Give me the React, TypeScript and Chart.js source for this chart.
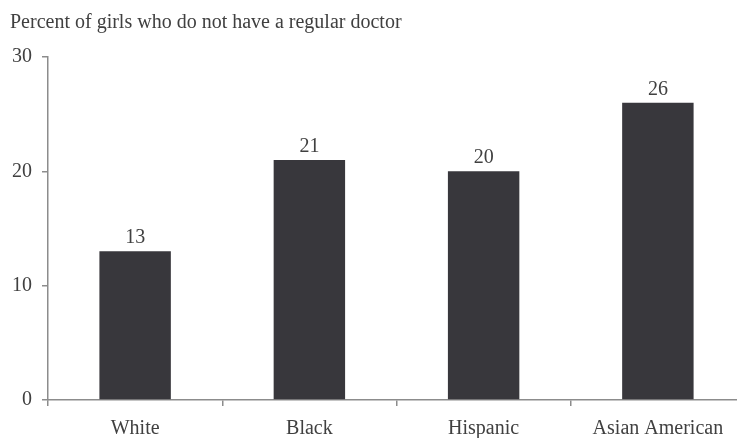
import React, { useEffect, useRef } from "react";
import { Chart, registerables } from "chart.js";

Chart.register(...registerables);

const categories = ["White", "Black", "Hispanic", "Asian American"];
const values = [13, 21, 20, 26];
const yTicks = [0, 10, 20, 30];
const titleText = "Percent of girls who do not have a regular doctor";

const FONT = '"Liberation Serif", "Times New Roman", serif';
const TEXT = "#404040";
const AXIS = "#8c8c8c";
const BAR = "#38373c";

const labelPlugin = {
  id: "barLabels",
  afterDatasetsDraw(chart: any) {
    const ctx = chart.ctx;
    const meta = chart.getDatasetMeta(0);
    ctx.save();
    ctx.font = `20px ${FONT}`;
    ctx.fillStyle = TEXT;
    ctx.textAlign = "center";
    ctx.textBaseline = "alphabetic";
    meta.data.forEach((el: any, i: number) => {
      ctx.fillText(String(values[i]), el.x, el.y - 8);
    });
    ctx.restore();
  },
};

const titlePlugin = {
  id: "leftTitle",
  afterDraw(chart: any) {
    const ctx = chart.ctx;
    ctx.save();
    ctx.font = `20px ${FONT}`;
    ctx.fillStyle = TEXT;
    ctx.textAlign = "left";
    ctx.textBaseline = "alphabetic";
    ctx.fillText(titleText, 10, 28);
    ctx.restore();
  },
};

export default function App() {
  const ref = useRef<HTMLCanvasElement | null>(null);
  useEffect(() => {
    if (!ref.current) return;
    const chart = new Chart(ref.current, {
      type: "bar",
      data: {
        labels: categories,
        datasets: [
          {
            data: values,
            backgroundColor: BAR,
            borderWidth: 0,
            categoryPercentage: 1,
            barPercentage: 0.41,
          },
        ],
      },
      options: {
        animation: false,
        responsive: false,
        devicePixelRatio: 1,
        layout: { padding: { top: 57, left: 0, right: 0, bottom: 0 } },
        plugins: {
          legend: { display: false },
          tooltip: { enabled: false },
          title: { display: false },
        },
        scales: {
          x: {
            offset: true,
            grid: {
              offset: true,
              display: true,
              drawOnChartArea: false,
              drawTicks: true,
              tickLength: 6,
              color: AXIS,
              lineWidth: 1.5,
            },
            border: { display: true, color: AXIS, width: 1.5 },
            ticks: {
              color: TEXT,
              font: { family: FONT, size: 20 },
              padding: 11,
              maxRotation: 0,
              autoSkip: false,
            },
            afterFit(scale: any) {
              scale.height = 38;
            },
          },
          y: {
            min: 0,
            max: 30,
            afterBuildTicks(scale: any) {
              scale.ticks = yTicks.map((v) => ({ value: v }));
            },
            grid: {
              display: true,
              drawOnChartArea: false,
              drawTicks: true,
              tickLength: 6,
              color: AXIS,
              lineWidth: 1.5,
            },
            border: { display: true, color: AXIS, width: 1.5 },
            ticks: {
              color: TEXT,
              font: { family: FONT, size: 20 },
              padding: 10,
            },
            afterFit(scale: any) {
              scale.width = 48;
            },
          },
        },
      },
      plugins: [labelPlugin, titlePlugin],
    });
    let alive = true;
    const redraw = () => {
      if (alive) chart.update();
    };
    if ((document as any).fonts) {
      (document as any).fonts.load(`20px ${FONT}`).then(redraw, redraw);
      (document as any).fonts.ready.then(redraw);
    }
    const t = setTimeout(redraw, 50);
    return () => {
      alive = false;
      clearTimeout(t);
      chart.destroy();
    };
  }, []);

  return (
    <div
      style={{
        position: "fixed",
        left: 0,
        top: 0,
        width: 737,
        height: 438,
        overflow: "hidden",
        background: "#fff",
      }}
    >
      <span
        style={{
          position: "absolute",
          left: -1000,
          top: 0,
          fontFamily: FONT,
          fontSize: 20,
        }}
      >
        Percent 0123
      </span>
      <canvas ref={ref} width={745} height={438} style={{ display: "block" }} />
    </div>
  );
}
